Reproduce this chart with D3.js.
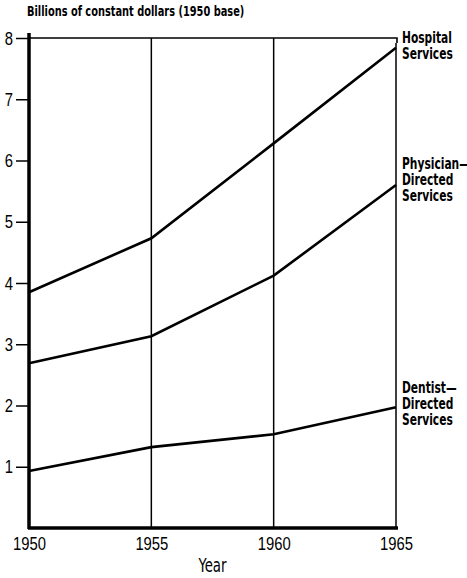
<!DOCTYPE html>
<html>
<head>
<meta charset="utf-8">
<script src="https://cdn.jsdelivr.net/npm/d3@7"></script>
<style>
  body { margin: 0; background: #fff; }
  svg { font-family: "DejaVu Sans Condensed", "DejaVu Sans", sans-serif; }
</style>
</head>
<body>
<div id="chart"></div>
<script>
// ====== Personal health care expenditures, constant dollars ======

// Data:
let years = [1950, 1955, 1960, 1965];
let hospital = [3.85, 4.73, 6.28, 7.84];
let physician = [2.69, 3.13, 4.12, 5.6];
let dentist = [0.93, 1.32, 1.53, 1.97];
let yTicks = [1, 2, 3, 4, 5, 6, 7, 8];

let series = [
    {name: 'hospital', values: hospital, label: ['Hospital', 'Services']},
    {name: 'physician', values: physician, label: ['Physician\u2014', 'Directed', 'Services']},
    {name: 'dentist', values: dentist, label: ['Dentist\u2014', 'Directed', 'Services']}
];

let width = 467, height = 578,
    margin = {top: 38, right: 71, bottom: 50, left: 29},
    narrow = 0.78; // horizontal squeeze, the printed type is condensed

let x = d3.scaleLinear().domain([1950, 1965]).range([margin.left, width - margin.right]);
let y = d3.scaleLinear().domain([0, 8]).range([height - margin.bottom, margin.top]);

let svg = d3.select('#chart').append('svg')
    .attr('width', width)
    .attr('height', height);

// Title:
svg.append('g')
    .attr('transform', 'translate(27,16) scale(' + narrow + ',1)')
  .append('text')
    .attr('font-size', 14)
    .attr('font-weight', 'bold')
    .text('Billions of constant dollars (1950 base)');

// Top frame line with its small hook at the right end:
svg.append('path')
    .attr('d', 'M' + x(1950) + ',' + y(8) + 'H' + (x(1965) + 1) + 'v5')
    .attr('fill', 'none')
    .attr('stroke', '#000')
    .attr('stroke-width', 1.6);

// Vertical year lines:
svg.selectAll('.vline')
    .data(years.slice(1))
  .enter().append('line')
    .attr('class', 'vline')
    .attr('x1', d => x(d))
    .attr('x2', d => x(d))
    .attr('y1', d => d === 1965 ? y(8) + 5 : y(8))
    .attr('y2', y(0))
    .attr('stroke', '#000')
    .attr('stroke-width', 1.5);

// Y axis (left ticks, thick line drawn below):
let yAxis = d3.axisLeft(y)
    .tickValues(yTicks)
    .tickSize(13)
    .tickPadding(3)
    .tickFormat(d3.format('d'));

let yg = svg.append('g')
    .attr('transform', 'translate(' + margin.left + ',0)')
    .call(yAxis);
yg.select('.domain').remove();
yg.selectAll('.tick line').attr('stroke-width', 1.5);
yg.selectAll('.tick text')
    .attr('x', 0)
    .attr('transform', 'translate(-16,0) scale(' + narrow + ',1)')
    .attr('font-size', 19)
    .attr('fill', '#000');

svg.append('line')
    .attr('x1', margin.left)
    .attr('x2', margin.left)
    .attr('y1', y(8) - 5)
    .attr('y2', y(0) + 1)
    .attr('stroke', '#000')
    .attr('stroke-width', 3.5);

// X axis:
let xAxis = d3.axisBottom(x)
    .tickValues(years)
    .tickSize(0)
    .tickPadding(9)
    .tickFormat(d3.format('d'));

let xg = svg.append('g')
    .attr('transform', 'translate(0,' + y(0) + ')')
    .call(xAxis);
xg.select('.domain').remove();
xg.selectAll('.tick text')
    .attr('transform', 'scale(' + narrow + ',1)')
    .attr('font-size', 19)
    .attr('fill', '#000');

svg.append('line')
    .attr('x1', margin.left - 1)
    .attr('x2', x(1965) + 2)
    .attr('y1', y(0))
    .attr('y2', y(0))
    .attr('stroke', '#000')
    .attr('stroke-width', 3.5);

svg.append('g')
    .attr('transform', 'translate(' + ((x(1955) + x(1960)) / 2) + ',572) scale(' + narrow + ',1)')
  .append('text')
    .attr('text-anchor', 'middle')
    .attr('font-size', 19)
    .text('Year');

// Data lines:
let line = d3.line()
    .x((d, i) => x(years[i]))
    .y(d => y(d));

svg.selectAll('.series')
    .data(series)
  .enter().append('path')
    .attr('class', 'series')
    .attr('d', d => line(d.values))
    .attr('fill', 'none')
    .attr('stroke', '#000')
    .attr('stroke-width', 2.6);

// Labels on the right:
let labelTop = {hospital: y(7.84) - 5, physician: y(5.6) - 16, dentist: y(1.97) - 14};

let labels = svg.selectAll('.lab')
    .data(series)
  .enter().append('g')
    .attr('class', 'lab')
    .attr('transform', d => 'translate(' + (x(1965) + 6) + ',' + labelTop[d.name] + ') scale(0.72,1)')
  .append('text')
    .attr('font-size', 16.5)
    .attr('font-weight', 'bold');

labels.selectAll('tspan')
    .data(d => d.label)
  .enter().append('tspan')
    .attr('x', 0)
    .attr('dy', (d, i) => i === 0 ? 0 : 16)
    .text(d => d);
</script>
</body>
</html>
